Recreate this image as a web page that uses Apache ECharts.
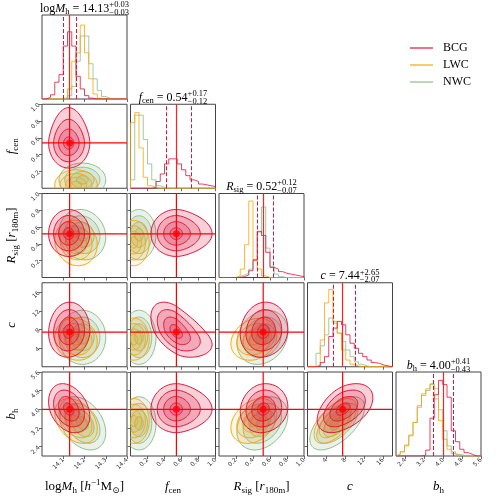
<!DOCTYPE html>
<html>
<head>
<meta charset="utf-8">
<title>corner</title>
<script src="https://cdn.jsdelivr.net/npm/echarts@6/dist/echarts.min.js"></script>
<style>
html, body { margin: 0; padding: 0; background: #fff; }
#chart { width: 498px; height: 498px; }
</style>
</head>
<body>
<div id="chart"></div>
<script>
// parameter order: logMh, fcen, Rsig, c, bh
const groups = ["BCG", "LWC", "NWC"];
const axisMin = [14.0, 0.0, 0.0, 0.0, 2.0];
const axisMax = [14.4, 1.0, 1.0, 18.0, 5.6];
const tickValues = [
  [14.1, 14.2, 14.3, 14.4],
  [0.2, 0.4, 0.6, 0.8, 1.0],
  [0.2, 0.4, 0.6, 0.8, 1.0],
  [4, 8, 12, 16],
  [2.4, 3.2, 4.0, 4.8, 5.6]
];
const tickDecimals = [1, 1, 1, 0, 1];

// BCG summary: median and errors (titles, quantile lines, crosshair)
const bcgMedian = [14.13, 0.54, 0.52, 7.44, 4.00];
const bcgErrPlus = [0.03, 0.17, 0.12, 2.65, 0.41];
const bcgErrMinus = [0.03, 0.12, 0.07, 2.07, 0.43];

// 1D histograms, 20 bins over the axis range (height as fraction of panel)
const bcgHistLogMh = [0, 0.02, 0.05, 0.2, 0.29, 0.63, 0.8, 0.63, 0.27, 0.12, 0.04, 0.01, 0, 0, 0, 0, 0, 0, 0, 0];
const lwcHistLogMh = [0, 0, 0, 0, 0, 0.02, 0.12, 0.45, 0.55, 0.88, 0.55, 0.24, 0.06, 0.01, 0, 0, 0, 0, 0, 0];
const nwcHistLogMh = [0, 0, 0, 0, 0, 0.01, 0.04, 0.15, 0.45, 0.75, 0.75, 0.42, 0.24, 0.1, 0.03, 0.01, 0, 0, 0, 0];

const bcgHistFcen = [0, 0, 0, 0, 0, 0.01, 0.08, 0.17, 0.29, 0.35, 0.35, 0.29, 0.22, 0.15, 0.1, 0.08, 0.05, 0.04, 0.03, 0.02];
const lwcHistFcen = [0.78, 0.9, 0.48, 0.13, 0.03, 0.01, 0, 0, 0, 0, 0, 0, 0, 0, 0, 0, 0, 0, 0, 0];
const nwcHistFcen = [0.1, 0.87, 0.87, 0.58, 0.29, 0.1, 0.03, 0.01, 0, 0, 0, 0, 0, 0, 0, 0, 0, 0, 0, 0];

const bcgHistRsig = [0, 0, 0, 0, 0, 0.01, 0.03, 0.08, 0.21, 0.55, 0.5, 0.3, 0.12, 0.1, 0.07, 0.05, 0.04, 0.03, 0.02, 0.01];
const lwcHistRsig = [0, 0, 0, 0, 0.02, 0.1, 0.39, 0.91, 0.21, 0.1, 0.02, 0, 0, 0, 0, 0, 0, 0, 0, 0];
const nwcHistRsig = [0, 0, 0, 0, 0.01, 0.03, 0.05, 0.1, 0.2, 0.54, 0.84, 0.35, 0.13, 0.04, 0.01, 0, 0, 0, 0, 0];

const bcgHistC = [0, 0, 0.01, 0.05, 0.12, 0.36, 0.46, 0.54, 0.5, 0.38, 0.28, 0.22, 0.16, 0.12, 0.08, 0.05, 0.04, 0.02, 0.01, 0];
const lwcHistC = [0, 0, 0.02, 0.32, 0.76, 0.92, 0.54, 0.4, 0.2, 0.08, 0.03, 0.01, 0, 0, 0, 0, 0, 0, 0, 0];
const nwcHistC = [0, 0, 0.16, 0.25, 0.38, 0.58, 0.52, 0.4, 0.3, 0.2, 0.12, 0.06, 0.03, 0.01, 0, 0, 0, 0, 0, 0];

const bcgHistBh = [0, 0, 0, 0, 0, 0, 0.01, 0.07, 0.45, 0.73, 0.9, 0.85, 0.7, 0.3, 0.17, 0.08, 0.04, 0.02, 0, 0];
const lwcHistBh = [0.02, 0.05, 0.12, 0.24, 0.4, 0.6, 0.74, 0.8, 0.86, 0.68, 0.42, 0.2, 0.08, 0.03, 0.01, 0, 0, 0, 0, 0];
const nwcHistBh = [0.02, 0.05, 0.13, 0.25, 0.4, 0.58, 0.72, 0.78, 0.85, 0.8, 0.55, 0.3, 0.12, 0.05, 0.02, 0.01, 0, 0, 0, 0];

// 2D contour model per group: centre, lower / upper widths, upper tail, correlations
const bcgCentre = [14.125, 0.54, 0.52, 7.44, 4.0];
const bcgSigLo = [0.047, 0.15, 0.135, 2.7, 0.5];
const bcgSigHi = [0.05, 0.12, 0.145, 3.2, 0.55];
const bcgTail = [0, 0.375, 0, 0, 0];
const bcgRho = [
  [1, 0, 0, 0.05, -0.3],
  [0, 1, 0, -0.5, 0],
  [0, 0, 1, 0.1, 0.1],
  [0.05, -0.5, 0.1, 1, 0.45],
  [-0.3, 0, 0.1, 0.45, 1]
];
const lwcCentre = [14.16, 0.04, 0.42, 5.8, 3.5];
const lwcSigLo = [0.05, 0.09, 0.14, 2.2, 0.48];
const lwcSigHi = [0.05, 0.09, 0.13, 2.3, 0.48];
const lwcTail = [0, 0, 0, 0, 0];
const lwcRho = [
  [1, 0, -0.1, -0.1, -0.35],
  [0, 1, 0, 0, 0],
  [-0.1, 0, 1, 0.2, 0.3],
  [-0.1, 0, 0.2, 1, 0.6],
  [-0.35, 0, 0.3, 0.6, 1]
];
const nwcCentre = [14.19, 0.1, 0.51, 6.3, 3.4];
const nwcSigLo = [0.055, 0.1, 0.15, 2.9, 0.57];
const nwcSigHi = [0.055, 0.1, 0.15, 2.9, 0.57];
const nwcTail = [0, 0, 0, 0, 0];
const nwcRho = [
  [1, 0, -0.1, 0, -0.35],
  [0, 1, 0, 0, 0],
  [-0.1, 0, 1, 0.2, 0.3],
  [0, 0, 0.2, 1, 0.6],
  [-0.35, 0, 0.3, 0.6, 1]
];
const contourLevels = [2, 1.5, 1, 0.5];

const hists = [
  [bcgHistLogMh, bcgHistFcen, bcgHistRsig, bcgHistC, bcgHistBh],
  [lwcHistLogMh, lwcHistFcen, lwcHistRsig, lwcHistC, lwcHistBh],
  [nwcHistLogMh, nwcHistFcen, nwcHistRsig, nwcHistC, nwcHistBh]
];
const model = [
  { centre: bcgCentre, lo: bcgSigLo, hi: bcgSigHi, tail: bcgTail, rho: bcgRho },
  { centre: lwcCentre, lo: lwcSigLo, hi: lwcSigHi, tail: lwcTail, rho: lwcRho },
  { centre: nwcCentre, lo: nwcSigLo, hi: nwcSigHi, tail: nwcTail, rho: nwcRho }
];

const lineColor = ["#dc143c", "#ffa500", "#8fbc8f"];
const fillColor = ["rgba(220,20,60,0.2)", "rgba(255,165,0,0.1)", "rgba(143,188,143,0.2)"];
const serif = '"Liberation Serif", "DejaVu Serif", serif';

// layout
const colLeft = [42, 130.5, 219, 307.5, 396];
const rowTop = [15, 104.25, 193.5, 282.75, 372];
const panelW = 85, panelH = 84;

function stretch(g, p, u) {
  const m = model[g];
  if (u < 0) return m.centre[p] + u * m.lo[p];
  return m.centre[p] + m.hi[p] * u * (1 + m.tail[p] * u);
}

// contour ring (data coordinates) for group g, x param px, y param py
function contourRing(g, px, py, r) {
  const rho = model[g].rho[py][px];
  const pts = [];
  for (let k = 0; k < 90; k++) {
    const th = (2 * Math.PI * k) / 90;
    const u = r * Math.cos(th);
    const v = r * (rho * Math.cos(th) + Math.sqrt(1 - rho * rho) * Math.sin(th));
    pts.push([stretch(g, px, u), stretch(g, py, v)]);
  }
  return pts;
}

function histPoints(h, p) {
  const w = (axisMax[p] - axisMin[p]) / h.length;
  const pts = [[axisMin[p], 0]];
  h.forEach((v, i) => pts.push([axisMin[p] + i * w, v]));
  pts.push([axisMax[p], h[h.length - 1]]);
  pts.push([axisMax[p], 0]);
  return pts;
}

function makeAxis(k, p, labels) {
  return {
    gridIndex: k,
    type: "value",
    min: axisMin[p],
    max: axisMax[p],
    axisLine: { show: false },
    splitLine: { show: false },
    axisTick: { show: true, customValues: tickValues[p], length: 3, lineStyle: { color: "#444", width: 0.8 } },
    axisLabel: {
      show: labels,
      customValues: tickValues[p],
      rotate: 45,
      fontSize: 6,
      fontFamily: "DejaVu Sans",
      color: "#333",
      margin: 3,
      formatter: (v) => v.toFixed(tickDecimals[p])
    }
  };
}

const grid = [], xAxis = [], yAxis = [], series = [];
let k = 0;
for (let r = 0; r < 5; r++) {
  for (let c = 0; c <= r; c++) {
    grid.push({ left: colLeft[c], top: rowTop[r], width: panelW, height: panelH, show: true, borderColor: "#444", borderWidth: 1 });
    xAxis.push(makeAxis(k, c, r === 4));
    if (r === c) {
      yAxis.push({ gridIndex: k, type: "value", min: 0, max: 1, show: false });
      [2, 1, 0].forEach((g) => {
        const s = {
          type: "line",
          name: groups[g],
          xAxisIndex: k,
          yAxisIndex: k,
          step: "end",
          symbol: "none",
          silent: true,
          data: histPoints(hists[g][r], r),
          lineStyle: { color: lineColor[g], width: 1, opacity: 0.8 }
        };
        if (g === 0) {
          const dash = { color: "#dc143c", type: [4, 2], width: 1 };
          s.markLine = {
            silent: true,
            symbol: ["none", "none"],
            label: { show: false },
            data: [
              { xAxis: bcgMedian[r] - bcgErrMinus[r], lineStyle: dash },
              { xAxis: bcgMedian[r], lineStyle: { color: "#ff2020", type: "solid", width: 1.2 } },
              { xAxis: bcgMedian[r] + bcgErrPlus[r], lineStyle: dash }
            ]
          };
        }
        series.push(s);
      });
    } else {
      yAxis.push(makeAxis(k, r, c === 0));
      const items = [];
      [2, 1, 0].forEach((g) => contourLevels.forEach((lv, i) => items.push([g, i])));
      const px = c, py = r;
      series.push({
        type: "custom",
        xAxisIndex: k,
        yAxisIndex: k,
        silent: true,
        data: items,
        renderItem: (params, api) => {
          const g = api.value(0);
          const lv = contourLevels[api.value(1)];
          const pts = contourRing(g, px, py, lv).map((q) => api.coord(q));
          const cs = params.coordSys;
          return {
            type: "polygon",
            shape: { points: pts },
            style: { fill: fillColor[g], stroke: lineColor[g], lineWidth: 1 },
            clipPath: { type: "rect", shape: { x: cs.x, y: cs.y, width: cs.width, height: cs.height } }
          };
        }
      });
      // crosshair at BCG medians
      series.push({
        type: "line", xAxisIndex: k, yAxisIndex: k, symbol: "none", silent: true,
        data: [[bcgMedian[c], axisMin[r]], [bcgMedian[c], axisMax[r]]],
        lineStyle: { color: "#ff0000", width: 1.2 }
      });
      series.push({
        type: "line", xAxisIndex: k, yAxisIndex: k, symbol: "none", silent: true,
        data: [[axisMin[c], bcgMedian[r]], [axisMax[c], bcgMedian[r]]],
        lineStyle: { color: "#ff0000", width: 1.2 }
      });
      series.push({
        type: "scatter", xAxisIndex: k, yAxisIndex: k, silent: true, symbolSize: 7,
        data: [[bcgMedian[c], bcgMedian[r]]],
        itemStyle: { color: "#ff0000" }
      });
    }
    k++;
  }
}

// text with sub/superscripts, built from pieces
const measureCtx = document.createElement("canvas").getContext("2d");
function textW(t, s, it) {
  measureCtx.font = (it ? "italic " : "") + s + "px " + serif;
  return measureCtx.measureText(t).width;
}
function mathText(parts, cx, cy, rot) {
  let x = 0;
  const kids = [];
  const piece = (t, s, it, dy, px) => ({
    type: "text", x: px, y: dy || 0, silent: true,
    style: { text: t, fontSize: s, fontStyle: it ? "italic" : "normal", fontFamily: serif, fill: "#000", align: "left", verticalAlign: "middle" }
  });
  parts.forEach((p) => {
    if (p.sup) {
      kids.push(piece(p.sup, p.s, false, -3.8, x));
      kids.push(piece(p.sub, p.s, false, 3.8, x));
      x += Math.max(textW(p.sup, p.s), textW(p.sub, p.s));
    } else {
      kids.push(piece(p[0], p[1], p[2], p[3], x));
      x += textW(p[0], p[1], p[2]);
    }
  });
  kids.forEach((e) => (e.x -= x / 2));
  return { type: "group", x: cx, y: cy, rotation: rot || 0, silent: true, children: kids };
}

const symbolParts = [
  [["log", 12], ["M", 12, true], ["h", 8.5, false, 3]],
  [["f", 12, true], ["cen", 8.5, false, 3]],
  [["R", 12, true], ["sig", 8.5, false, 3]],
  [["c", 12, true]],
  [["b", 12, true], ["h", 8.5, false, 3]]
];
const labelParts = [
  [["log", 13], ["M", 13, true], ["h", 9, false, 3.5], [" [", 13], ["h", 13, true], ["\u22121", 9, false, -4.5], ["M", 13], ["\u2299", 9, false, 3.5], ["]", 13]],
  [["f", 13, true], ["cen", 9, false, 3.5]],
  [["R", 13, true], ["sig", 9, false, 3.5], [" [", 13], ["r", 13, true], ["180m", 9, false, 3.5], ["]", 13]],
  [["c", 13, true]],
  [["b", 13, true], ["h", 9, false, 3.5]]
];

const graphic = [];
for (let p = 0; p < 5; p++) {
  const title = symbolParts[p].concat([[" = " + bcgMedian[p].toFixed(2), 12]], [{ sup: "+" + bcgErrPlus[p].toFixed(2), sub: "\u2212" + bcgErrMinus[p].toFixed(2), s: 8.5 }]);
  graphic.push(mathText(title, colLeft[p] + panelW / 2, rowTop[p] - 6.5));
  graphic.push(mathText(labelParts[p], colLeft[p] + panelW / 2, 487));
  if (p > 0) graphic.push(mathText(labelParts[p], 12, rowTop[p] + panelH / 2, Math.PI / 2));
}

// legend
groups.forEach((g, i) => {
  const y = 48 + 17 * i;
  graphic.push({ type: "line", silent: true, shape: { x1: 410, y1: y, x2: 433, y2: y }, style: { stroke: lineColor[i], lineWidth: 1.5, opacity: 0.8 } });
  graphic.push({ type: "text", silent: true, x: 443, y: y, style: { text: g, fontSize: 12, fontFamily: serif, fill: "#000", verticalAlign: "middle" } });
});

const myChart = echarts.init(document.getElementById("chart"));
myChart.setOption({
  animation: false,
  backgroundColor: "#fff",
  grid: grid,
  xAxis: xAxis,
  yAxis: yAxis,
  series: series,
  graphic: graphic
});
</script>
</body>
</html>
